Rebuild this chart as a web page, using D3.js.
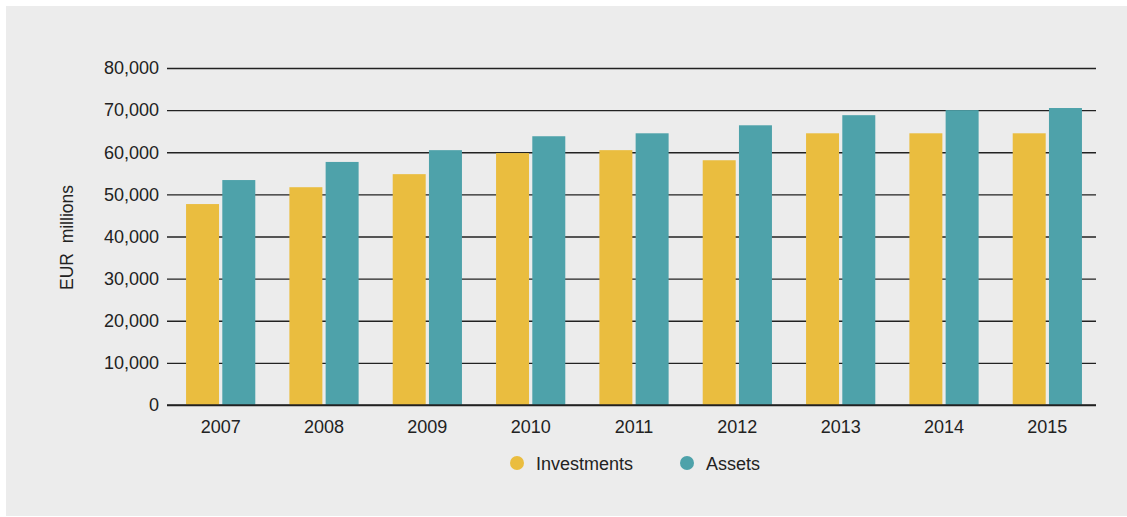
<!DOCTYPE html>
<html>
<head>
<meta charset="utf-8">
<script src="https://cdn.jsdelivr.net/npm/d3@7"></script>
<style>
  html, body { margin: 0; padding: 0; background: #fff; }
  #chart { width: 1127px; height: 517px; }
  text { font-family: "Helvetica Neue", "Liberation Sans", Arial, sans-serif; fill: #222; }
</style>
</head>
<body>
<div id="chart"><svg width="1127" height="517"></svg></div>
<script>
// data
const years = ["2007", "2008", "2009", "2010", "2011", "2012", "2013", "2014", "2015"];
const investments = [47700, 51700, 54800, 59800, 60500, 58100, 64500, 64500, 64500];
const assets = [53400, 57700, 60500, 63800, 64500, 66400, 68800, 70000, 70500];
const seriesNames = ["Investments", "Assets"];
const yTicks = [0, 10000, 20000, 30000, 40000, 50000, 60000, 70000, 80000];
const colors = {"Investments": "#EABD3F", "Assets": "#4EA2AA"};

const rows = years.map((y, i) => ({year: y, Investments: investments[i], Assets: assets[i]}));

/***** SETUP *****/
const svg = d3.select("#chart").select("svg");
const margin = {top: 68, left: 167, right: 31, bottom: 112};
const width = 1127, height = 517;
const plotWidth = width - margin.left - margin.right;
const plotHeight = height - margin.top - margin.bottom;
const FONT = "18px";

// panel background
svg.append("rect")
    .attr("x", 6).attr("y", 6)
    .attr("width", width - 6).attr("height", 510)
    .attr("fill", "#ececec");

/***** SCALES *****/
const yScale = d3.scaleLinear()
    .domain([0, 80000])
    .range([plotHeight, 0]);

const xScale = d3.scaleBand()
    .domain(years)
    .range([2, plotWidth + 3])
    .paddingInner(0.33)
    .paddingOuter(0.165);

const xInner = d3.scaleBand()
    .domain(seriesNames)
    .range([0, xScale.bandwidth()])
    .paddingInner(0.09);

const plot = svg.append("g")
    .attr("transform", `translate(${margin.left}, ${margin.top})`);

/***** GRIDLINES + Y AXIS *****/
const yAxis = plot.append("g")
    .attr("class", "yAxis")
    .call(d3.axisLeft(yScale)
        .tickValues(yTicks)
        .tickSize(-plotWidth)
        .tickPadding(8)
        .tickFormat(d3.format(",")));

yAxis.select(".domain").remove();
yAxis.selectAll("line")
    .attr("stroke", "#222")
    .attr("stroke-width", 1.3);
yAxis.selectAll("text")
    .style("font-size", FONT)
    .attr("fill", "#222");

/***** BARS *****/
plot.selectAll(".group")
    .data(rows)
    .join("g")
    .attr("class", "group")
    .attr("transform", d => `translate(${xScale(d.year)}, 0)`)
    .selectAll("rect")
    .data(d => seriesNames.map(k => ({key: k, value: d[k]})))
    .join("rect")
    .attr("x", d => xInner(d.key))
    .attr("y", d => yScale(d.value))
    .attr("width", xInner.bandwidth())
    .attr("height", d => yScale(0) - yScale(d.value))
    .attr("fill", d => colors[d.key]);

// baseline drawn on top of bars
plot.append("line")
    .attr("x1", 0).attr("x2", plotWidth)
    .attr("y1", yScale(0)).attr("y2", yScale(0))
    .attr("stroke", "#222")
    .attr("stroke-width", 1.3);

/***** X AXIS *****/
const xAxis = plot.append("g")
    .attr("transform", `translate(0, ${plotHeight})`)
    .call(d3.axisBottom(xScale).tickSize(0).tickPadding(15));
xAxis.select(".domain").remove();
xAxis.selectAll("text")
    .style("font-size", FONT)
    .attr("fill", "#222");

/***** Y LABEL *****/
svg.append("text")
    .attr("transform", `translate(73, ${margin.top + plotHeight / 2 + 1}) rotate(-90)`)
    .attr("text-anchor", "middle")
    .style("font-size", "17.5px")
    .style("white-space", "pre")
    .text("EUR  millions");

/***** LEGEND *****/
const legendItems = [
    {name: "Investments", cx: 517, tx: 536},
    {name: "Assets", cx: 687, tx: 706}
];
const legend = svg.append("g").attr("class", "legend");
legend.selectAll("circle")
    .data(legendItems)
    .join("circle")
    .attr("cx", d => d.cx)
    .attr("cy", 463)
    .attr("r", 7)
    .attr("fill", d => colors[d.name]);
legend.selectAll("text")
    .data(legendItems)
    .join("text")
    .attr("x", d => d.tx)
    .attr("y", 470)
    .style("font-size", FONT)
    .text(d => d.name);
</script>
</body>
</html>
